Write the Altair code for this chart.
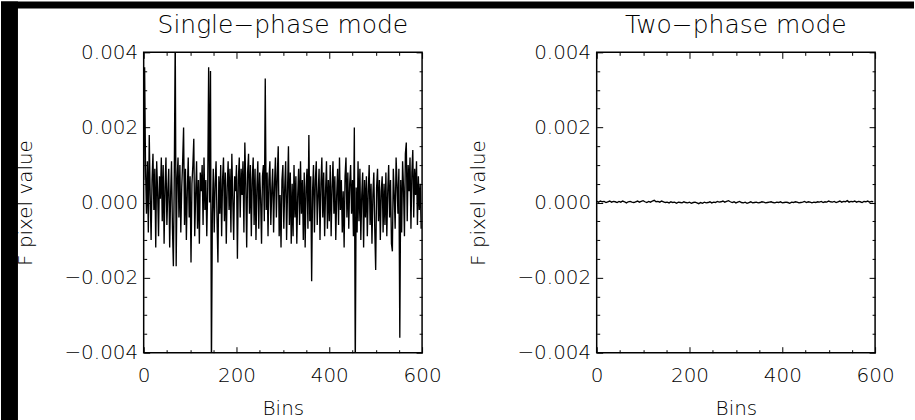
import altair as alt
import pandas as pd

# ---------------- data ----------------
panel_titles = ["Single\u2212phase mode", "Two\u2212phase mode"]
x_title = "Bins"
y_title = "F pixel value"

x_ticks = [0, 50, 100, 150, 200, 250, 300, 350, 400, 450, 500, 550, 600]
y_ticks = [-0.004, -0.0035, -0.003, -0.0025, -0.002, -0.0015, -0.001, -0.0005, 0.0,
           0.0005, 0.001, 0.0015, 0.002, 0.0025, 0.003, 0.0035, 0.004]

# Single-phase mode, every 2nd bin, values in units of 1e-4
single_bins = list(range(0, 600, 2))
single_vals_e4 = [
    6, 36, 9, -3, 11, -8, 18, 2, -10, 6, 13, -2, 9, -12, 11, 3, -9, 7, 1, 12,
    -5, 10, -11, 4, 12, -6, 3, 9, -12, 2, 11, -7, -17, 8, 45, -17, 6, 12, -4, 10,
    -8, 4, 11, 20, -6, 9, -10, 3, 12, -4, 7, -16, 5, 10, 17, -9, 2, 11, -7, 6,
    -11, 8, 3, 10, -6, 12, -2, 6, -9, 4, 36, 0, 35, -45, -3, 9, -8, 5, 11, -4,
    -16, 7, -3, 10, -9, 6, 12, -5, 8, -11, 4, 11, -2, 9, -8, 13, 1, -10, 7, 3,
    10, -15, 6, 12, -4, 9, 2, 11, -8, 16, 5, -12, 8, 13, -3, 10, -9, 6, 12, -6,
    9, -10, 4, 11, -7, 8, 1, -11, 7, 10, -5, 33, -2, 8, -9, 6, 11, -6, 3, 9,
    -8, 5, 12, -4, 7, 15, -9, 2, -12, 6, 10, -7, 4, 11, -10, 3, 15, -6, 8, -11,
    5, -9, 10, -4, 7, -11, 2, 9, -6, 11, -3, 6, -10, 8, -12, 4, 9, -7, 18, -5,
    7, -21, 3, 10, -8, 6, 11, -6, 2, 9, -10, 5, 12, -4, 8, -9, 3, 11, -7, 6,
    -5, 10, -9, 4, 11, -3, 7, -10, 2, 9, -6, 12, -2, 6, -8, 3, -12, 7, 12, -4,
    8, -7, 5, 10, -3, 6, -9, 20, -45, 4, -8, 11, -5, 9, -10, 2, 8, -12, 6, -4,
    7, -9, 3, 10, -6, 5, -11, 2, 8, -7, -18, 4, 9, -5, 6, -10, 3, 7, -8, 5,
    -6, 8, -9, 3, 10, -4, 6, -11, -13, 9, 2, -7, 12, 5, -3, 9, -36, 6, -8, 11,
    4, -9, 13, 16, -5, 10, 3, 12, -7, 8, 14, -4, 9, 2, 11, -6, 7, -2, 5, -7,
]

# Two-phase mode, every 4th bin, values in units of 1e-4
two_bins = list(range(0, 600, 4))
two_vals_e4 = [
    0.3, 0.1, 0.4, 0.2, 0.3, 0.0, 0.2, 0.4, 0.1, 0.3,
    0.2, 0.0, 0.3, 0.1, 0.4, 0.2, -0.1, 0.2, 0.3, 0.1,
    0.0, 0.2, 0.4, 0.1, 0.3, 0.5, 0.2, 0.0, 0.3, 0.1,
    0.4, 0.6, 0.2, 0.3, 0.1, 0.4, 0.2, 0.0, 0.1, -0.1,
    0.2, 0.0, 0.1, -0.2, 0.1, 0.0, -0.1, 0.2, 0.0, -0.1,
    0.1, -0.2, 0.0, 0.1, -0.1, -0.3, 0.0, -0.2, 0.1, -0.1,
    0.0, 0.2, -0.1, 0.1, 0.0, 0.3, 0.1, 0.2, 0.4, 0.1,
    0.3, 0.5, 0.2, 0.0, 0.2, -0.1, 0.1, 0.3, 0.0, -0.1,
    0.1, -0.2, 0.0, 0.2, -0.1, 0.0, 0.1, -0.1, 0.0, 0.2,
    0.1, -0.1, 0.0, 0.1, 0.2, 0.0, -0.1, 0.1, 0.0, 0.2,
    -0.1, 0.0, 0.1, 0.0, -0.2, 0.1, 0.0, 0.2, 0.1, -0.1,
    0.0, 0.1, 0.3, 0.0, 0.2, 0.1, -0.1, 0.1, 0.0, 0.2,
    0.1, 0.3, 0.0, 0.2, 0.1, 0.4, 0.2, 0.1, 0.3, 0.0,
    0.2, 0.4, 0.1, 0.3, 0.2, 0.5, 0.1, 0.3, 0.2, 0.4,
    0.1, 0.3, 0.2, 0.0, 0.3, 0.2, 0.4, 0.1, 0.3, 0.2,
]

single_df = pd.DataFrame({"bin": single_bins, "value": [v * 1e-4 for v in single_vals_e4]})
two_df = pd.DataFrame({"bin": two_bins, "value": [v * 1e-4 for v in two_vals_e4]})

# ---------------- layout / style ----------------
W, H = 279, 301          # plot area of each panel
PL, PT = 143, 51         # left panel plot origin on the page
GAP = 175                # between the two plot boxes
FONT = "DejaVu Sans"
WEIGHT = 200


def x_axis():
    return alt.Axis(
        values=x_ticks, title=x_title,
        labelExpr="datum.value % 200 === 0 ? datum.label : ''",
        ticks=False, tickSize=0, domain=False,
        grid=True, gridColor="black", gridOpacity=1, gridWidth=1,
        gridDash={"condition": {"test": "datum.value % 200 === 0", "value": [6, H - 12]},
                  "value": [3, H - 6]},
        labelFont=FONT, labelFontSize=20, labelFontWeight=WEIGHT, labelColor="black",
        labelPadding=13, labelFlush=False, labelOverlap=False,
        titleFont=FONT, titleFontSize=20, titleFontWeight=WEIGHT, titleColor="black",
        titleX=W / 2, titleY=62, titleBaseline="alphabetic", titleAlign="center",
    )


def y_axis():
    return alt.Axis(
        values=y_ticks, title=y_title, format=".3f",
        labelExpr="abs(round(datum.value * 10000)) % 20 === 0 ? datum.label : ''",
        ticks=False, tickSize=0, domain=False,
        grid=True, gridColor="black", gridOpacity=1, gridWidth=1,
        gridDash={"condition": {"test": "abs(round(datum.value * 10000)) % 20 === 0",
                                "value": [6, W - 12]},
                  "value": [3, W - 6]},
        labelFont=FONT, labelFontSize=20, labelFontWeight=WEIGHT, labelColor="black",
        labelPadding=6, labelFlush=False, labelOverlap=False,
        titleFont=FONT, titleFontSize=20, titleFontWeight=WEIGHT, titleColor="black",
        titleAngle=270, titleX=-112, titleY=H / 2, titleBaseline="alphabetic",
        titleAlign="center",
    )


def panel(df, title_text, with_frame_bands):
    line = alt.Chart(df).mark_line(color="black", strokeWidth=1.35, clip=True).encode(
        x=alt.X("bin:Q", scale=alt.Scale(domain=[0, 600], nice=False), axis=x_axis()),
        y=alt.Y("value:Q", scale=alt.Scale(domain=[-0.004, 0.004], nice=False), axis=y_axis()),
    )
    tdf = pd.DataFrame({"t": [title_text]})
    title = alt.Chart(tdf).mark_text(
        font=FONT, fontSize=25, fontWeight=WEIGHT, color="black",
        align="center", baseline="alphabetic",
    ).encode(text="t:N", x=alt.value(W / 2), y=alt.value(-19))
    layers = []
    if with_frame_bands:
        left_band = alt.Chart(tdf).mark_rect(color="black").encode(
            x=alt.value(-PL), x2=alt.value(-PL + 17),
            y=alt.value(-PT), y2=alt.value(420 - PT),
        )
        top_band = alt.Chart(tdf).mark_rect(color="black").encode(
            x=alt.value(-PL), x2=alt.value(915 - PL),
            y=alt.value(-PT), y2=alt.value(-PT + 7),
        )
        layers += [left_band, top_band]
    layers += [line, title]
    return alt.layer(*layers).properties(width=W, height=H)


left = panel(single_df, panel_titles[0], True)
right = panel(two_df, panel_titles[1], False)

chart = alt.hconcat(left, right, spacing=GAP, bounds="flush").properties(
    padding={"left": 0, "top": 0, "right": 0, "bottom": 0},
    background="white",
).configure_view(stroke="black", strokeWidth=1.5)

chart.save("out.html", embed_options={"renderer": "svg", "actions": False})
